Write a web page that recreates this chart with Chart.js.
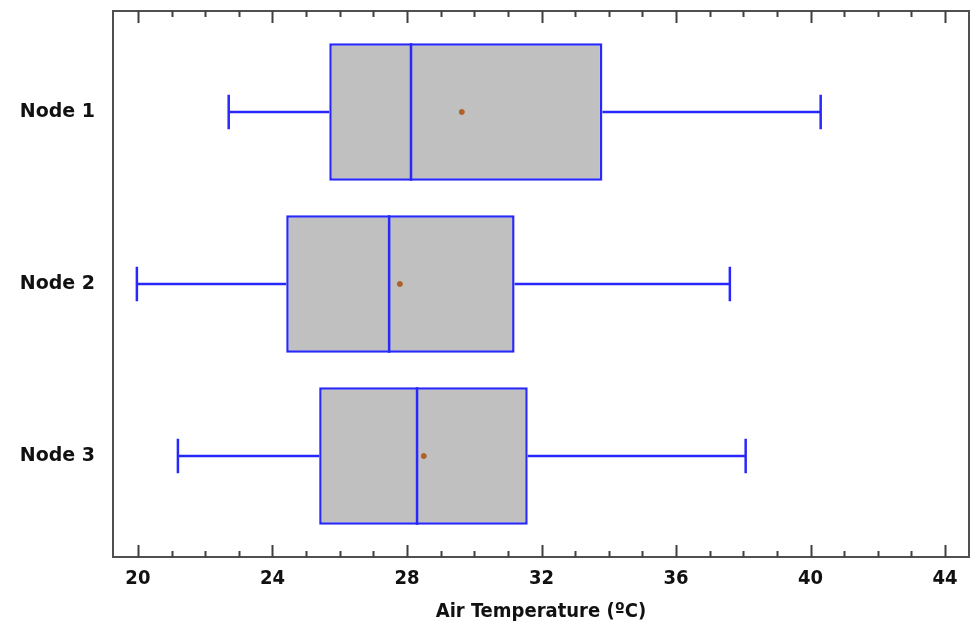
<!DOCTYPE html>
<html>
<head>
<meta charset="utf-8">
<script src="https://cdn.jsdelivr.net/npm/chart.js@4.4.1/dist/chart.umd.min.js"></script>
<style>
  html, body { margin: 0; padding: 0; background: #fff; }
  #wrap { width: 974px; height: 632px; position: relative; }
</style>
</head>
<body>
<div id="wrap"><canvas id="chart"></canvas></div>
<script>
// data
const nodeNames = ["Node 1", "Node 2", "Node 3"];
const nodePos = [1, 2, 3];
const whiskerLow = [22.70, 19.97, 21.19];
const quart1 = [25.69, 24.41, 25.39];
const medians = [28.12, 27.47, 28.30];
const quart3 = [33.81, 31.20, 31.59];
const whiskerHigh = [40.30, 37.60, 38.07];
const means = [29.63, 27.79, 28.50];
const xTicks = [20, 24, 28, 32, 36, 40, 44];
const xMinorStep = 1;

const BLUE = "#2828fa";
const FRAME = "#505050";
const narrowFont = "'Liberation Sans Narrow', 'DejaVu Sans Condensed', sans-serif";

// whiskers, medians, frame and inward ticks
const boxExtras = {
	id: "boxExtras",
	beforeDatasetsDraw(chart)
	{
		const ctx = chart.ctx;
		const xs = chart.scales.x, ys = chart.scales.y;
		ctx.save();
		ctx.strokeStyle = BLUE;
		ctx.lineWidth = 2.5;
		for(let i = 0; i < nodePos.length; i++)
		{
			let yc = ys.getPixelForValue(nodePos[i]);
			let cap = Math.abs(ys.getPixelForValue(nodePos[i] + 0.1) - yc);
			let xl = xs.getPixelForValue(whiskerLow[i]);
			let xq1 = xs.getPixelForValue(quart1[i]);
			let xq3 = xs.getPixelForValue(quart3[i]);
			let xh = xs.getPixelForValue(whiskerHigh[i]);
			ctx.beginPath();
			ctx.moveTo(xl, yc); ctx.lineTo(xq1, yc);
			ctx.moveTo(xq3, yc); ctx.lineTo(xh, yc);
			ctx.moveTo(xl, yc - cap); ctx.lineTo(xl, yc + cap);
			ctx.moveTo(xh, yc - cap); ctx.lineTo(xh, yc + cap);
			ctx.stroke();
		}
		ctx.restore();
	},
	afterDatasetDraw(chart, args)
	{
		if(args.index != 1)
			return;
		const ctx = chart.ctx;
		const xs = chart.scales.x, ys = chart.scales.y;
		const bars = chart.getDatasetMeta(1).data;
		ctx.save();
		ctx.strokeStyle = BLUE;
		ctx.lineWidth = 2.5;
		for(let i = 0; i < medians.length; i++)
		{
			let xm = xs.getPixelForValue(medians[i]);
			let half = bars[i].height / 2;
			let yc = ys.getPixelForValue(nodePos[i]);
			ctx.beginPath();
			ctx.moveTo(xm, yc - half);
			ctx.lineTo(xm, yc + half);
			ctx.stroke();
		}
		ctx.restore();
	},
	afterDraw(chart)
	{
		const ctx = chart.ctx;
		const area = chart.chartArea;
		const xs = chart.scales.x;
		ctx.save();
		ctx.strokeStyle = FRAME;
		ctx.lineWidth = 2;
		ctx.strokeRect(area.left, area.top, area.right - area.left, area.bottom - area.top);
		ctx.strokeStyle = "#404040";
		for(let v = xTicks[0]; v <= xTicks[xTicks.length - 1]; v += xMinorStep)
		{
			let len = xTicks.includes(v) ? 12 : 6;
			let px = Math.round(xs.getPixelForValue(v)) + 0.5;
			ctx.beginPath();
			ctx.moveTo(px, area.top);
			ctx.lineTo(px, area.top + len);
			ctx.moveTo(px, area.bottom);
			ctx.lineTo(px, area.bottom - len);
			ctx.stroke();
		}
		ctx.restore();
	}
};

const chart = new Chart(document.getElementById("chart").getContext("2d"),
{
	type: "bar",
	data:
	{
		datasets:
		[{
			type: "scatter",
			label: "Mean",
			data: nodePos.map((p, i) => ({ x: means[i], y: p })),
			pointStyle: "circle",
			pointRadius: 2.5,
			backgroundColor: "#b0602a",
			borderColor: "#b0602a",
			borderWidth: 1
		},
		{
			label: "Box",
			indexAxis: "y",
			data: nodePos.map((p, i) => ({ x: [quart1[i], quart3[i]], y: p })),
			backgroundColor: "#c0c0c0",
			borderColor: BLUE,
			borderWidth: 2.5,
			borderSkipped: false,
			barPercentage: 0.8,
			categoryPercentage: 1
		}]
	},
	options:
	{
		responsive: true,
		maintainAspectRatio: false,
		animation: false,
		layout: { padding: { top: 11, right: -3, left: 0, bottom: 0 } },
		plugins:
		{
			legend: { display: false },
			tooltip: { enabled: false }
		},
		scales:
		{
			x:
			{
				type: "linear",
				offset: false,
				min: 19.26,
				max: 44.71,
				afterBuildTicks: s => { s.ticks = xTicks.map(v => ({ value: v })); },
				afterFit: s => { s.height = 75; s.paddingLeft = 0; s.paddingRight = 0; },
				grid: { display: false, drawTicks: false, offset: false },
				border: { display: false },
				ticks:
				{
					padding: 10,
					color: "#111",
					font: { family: narrowFont, size: 20, weight: "bold" },
					maxRotation: 0
				},
				title:
				{
					display: true,
					text: "Air Temperature (ºC)",
					color: "#111",
					padding: { top: 0, bottom: 8 },
					font: { family: narrowFont, size: 20, weight: "bold" }
				}
			},
			y:
			{
				type: "linear",
				offset: false,
				reverse: true,
				min: 0.413,
				max: 3.587,
				afterBuildTicks: s => { s.ticks = nodePos.map(v => ({ value: v })); },
				afterFit: s => { s.width = 113; s.paddingTop = 0; s.paddingBottom = 0; },
				grid: { display: false, drawTicks: false, offset: false },
				border: { display: false },
				ticks:
				{
					padding: 18,
					color: "#111",
					font: { family: "'DejaVu Sans', sans-serif", size: 19, weight: "bold" },
					callback: v => nodeNames[nodePos.indexOf(v)]
				}
			}
		}
	},
	plugins: [boxExtras]
});
</script>
</body>
</html>
